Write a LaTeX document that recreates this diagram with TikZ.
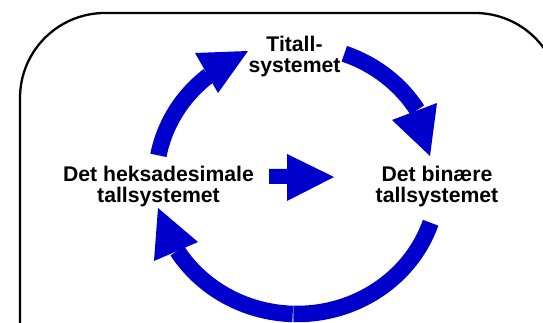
\documentclass[tikz,border=0pt]{standalone}
\usepackage{fontspec}
\setmainfont{Liberation Sans}
\usetikzlibrary{calc}
\definecolor{flow}{RGB}{0,0,204}

\begin{document}
\begin{tikzpicture}[x=1pt,y=-1pt,
  sysname/.style={font=\fontsize{21.2}{21}\selectfont\bfseries, align=center, inner sep=0pt, anchor=base},
  band/.style={draw=flow, line width=16.5pt},
  head/.style={fill=flow},
  frame/.style={draw=black, line width=2.3pt, rounded corners=85pt}]
\useasboundingbox (0,0) rectangle (543,323);

% outer frame, open below the page edge
\draw[frame] (20,380) -- (20,13) -- (560,13) -- (560,380);

% the three number systems (base anchor sits on the last line)
\node[sysname] (ten) at (294.5,72.7) {Titall-\\systemet};
\node[sysname] (hex) at (158.5,203) {Det heksadesimale\\tallsystemet};
\node[sysname] (bin) at (437,203) {Det binære\\tallsystemet};

% centre of the ring of arrows
\coordinate (ring) at (297,180);

% hexadecimal -> decimal
\draw[band] ($(ring)+(190.6:141 and 134)$)
  arc[start angle=190.6, end angle=231.2, x radius=141, y radius=134];
\fill[head] (195,53) -- (248,51) -- (218,93) -- cycle;

% decimal -> binary
\draw[band] ($(ring)+(289.6:141 and 134)$)
  arc[start angle=289.6, end angle=328.5, x radius=141, y radius=134];
\fill[head] (392,120) -- (437,103) -- (430,156) -- cycle;

% binary -> hexadecimal (two pieces meeting at the bottom)
\draw[band] ($(ring)+(18.6:141 and 134)$)
  arc[start angle=18.6, end angle=91.5, x radius=141, y radius=134];
\draw[band] ($(ring)+(91.75:141 and 134)$)
  arc[start angle=91.75, end angle=148.1, x radius=141, y radius=134];
\fill[head] (198,242) -- (154,261) -- (158,208) -- cycle;

% straight block arrow hexadecimal -> binary
\fill[head] (269,169) -- (287,169) -- (287,154) -- (334,177)
  -- (287,201) -- (287,184) -- (269,184) -- cycle;
\end{tikzpicture}
\end{document}
